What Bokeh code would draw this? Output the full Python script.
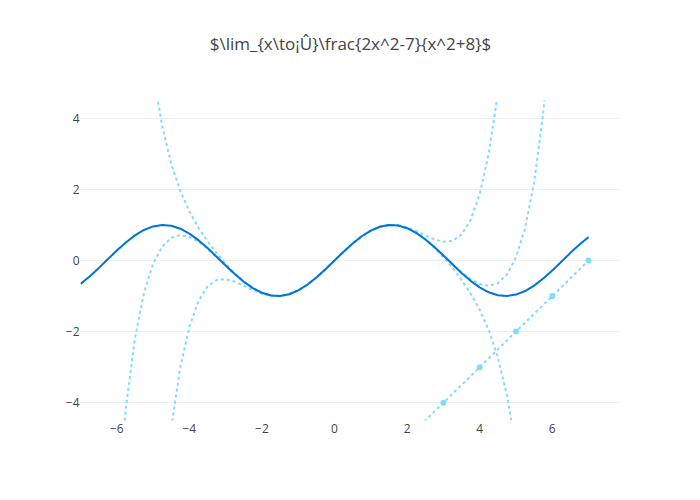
from bokeh.plotting import figure
from bokeh.models import Range1d, FixedTicker, Title
from bokeh.embed import file_html
from bokeh.resources import INLINE

TITLE = "$\\lim_{x\\to¡Û}\\frac{2x^2-7}{x^2+8}$"

# solid curve
sine_x = [-7, -6.75, -6.5, -6.25, -6, -5.75, -5.5, -5.25, -5, -4.75, -4.5, -4.25, -4, -3.75,
          -3.5, -3.25, -3, -2.75, -2.5, -2.25, -2, -1.75, -1.5, -1.25, -1, -0.75, -0.5, -0.25,
          0, 0.25, 0.5, 0.75, 1, 1.25, 1.5, 1.75, 2, 2.25, 2.5, 2.75, 3, 3.25, 3.5, 3.75,
          4, 4.25, 4.5, 4.75, 5, 5.25, 5.5, 5.75, 6, 6.25, 6.5, 6.75, 7]
sine_y = [-0.657, -0.451, -0.215, 0.033, 0.279, 0.508, 0.706, 0.859, 0.959, 0.999, 0.978, 0.895,
          0.757, 0.572, 0.351, 0.108, -0.141, -0.382, -0.598, -0.778, -0.909, -0.984, -0.997,
          -0.949, -0.841, -0.682, -0.479, -0.247,
          0,
          0.247, 0.479, 0.682, 0.841, 0.949, 0.997, 0.984, 0.909, 0.778, 0.598, 0.382, 0.141,
          -0.108, -0.351, -0.572, -0.757, -0.895, -0.978, -0.999, -0.959, -0.859, -0.706,
          -0.508, -0.279, -0.033, 0.215, 0.451, 0.657]

# dotted curve A
a_x = [-4.75, -4.5, -4.25, -4, -3.75, -3.5, -3.25, -3, -2.75, -2.5, -2.25, -2, -1.75, -1.5,
       -1.25, -1, -0.75, -0.5, -0.25, 0, 0.25, 0.5, 0.75, 1, 1.25, 1.5, 1.75, 2, 2.25, 2.5,
       2.75, 3, 3.25, 3.5, 3.75, 4, 4.25, 4.5, 4.75]
a_y = [-7.039, -4.690, -3.010, -1.867, -1.141, -0.731, -0.550, -0.525, -0.595, -0.710, -0.832,
       -0.933, -0.994, -1.001, -0.950, -0.842, -0.682, -0.479, -0.247,
       0,
       0.247, 0.479, 0.682, 0.842, 0.950, 1.001, 0.994, 0.933, 0.832, 0.710, 0.595, 0.525,
       0.550, 0.731, 1.141, 1.867, 3.010, 4.690, 7.039]

# dotted curve B
b_x = [-5, -4.75, -4.5, -4.25, -4, -3.75, -3.5, -3.25, -3, -2.75, -2.5, -2.25, -2, -1.75, -1.5,
       -1.25, -1, -0.75, -0.5, -0.25, 0, 0.25, 0.5, 0.75, 1, 1.25, 1.5, 1.75, 2, 2.25, 2.5,
       2.75, 3, 3.25, 3.5, 3.75, 4, 4.25, 4.5, 4.75, 5]
b_y = [5.293, 3.786, 2.724, 1.959, 1.384, 0.928, 0.546, 0.210, -0.091, -0.359, -0.589, -0.774,
       -0.908, -0.984, -0.997, -0.949, -0.841, -0.682, -0.479, -0.247,
       0,
       0.247, 0.479, 0.682, 0.841, 0.949, 0.997, 0.984, 0.908, 0.774, 0.589, 0.359, 0.091,
       -0.210, -0.546, -0.928, -1.384, -1.959, -2.724, -3.786, -5.293]

# dotted curve C
c_x = [-6, -5.75, -5.5, -5.25, -5, -4.75, -4.5, -4.25, -4, -3.75, -3.5, -3.25, -3, -2.75, -2.5,
       -2.25, -2, -1.75, -1.5, -1.25, -1, -0.75, -0.5, -0.25, 0, 0.25, 0.5, 0.75, 1, 1.25, 1.5,
       1.75, 2, 2.25, 2.5, 2.75, 3, 3.25, 3.5, 3.75, 4, 4.25, 4.5, 4.75, 5, 5.25, 5.5, 5.75, 6]
c_y = [-7.028, -4.145, -2.195, -0.908, -0.089, 0.394, 0.639, 0.712, 0.662, 0.524, 0.328, 0.098,
       -0.145, -0.383, -0.599, -0.778, -0.909, -0.984, -0.997, -0.949, -0.841, -0.682, -0.479,
       -0.247,
       0,
       0.247, 0.479, 0.682, 0.841, 0.949, 0.997, 0.984, 0.909, 0.778, 0.599, 0.383, 0.145,
       -0.098, -0.328, -0.524, -0.662, -0.712, -0.639, -0.394, 0.089, 0.908, 2.195, 4.145, 7.028]

# dotted line with markers
d_x = [2, 3, 4, 5, 6, 7]
d_y = [-5, -4, -3, -2, -1, 0]

x_ticks = [-6, -4, -2, 0, 2, 4, 6]
x_tick_labels = ["\u22126", "\u22124", "\u22122", "0", "2", "4", "6"]
y_ticks = [-4, -2, 0, 2, 4]
y_tick_labels = ["\u22124", "\u22122", "0", "2", "4"]

DARK = "#0074D9"
LIGHT = "#7FDBFF"
FONT = "Open Sans"

p = figure(frame_width=540, frame_height=320, output_backend="svg", toolbar_location=None,
           x_range=Range1d(-7.0, 7.88), y_range=Range1d(-4.5, 4.5),
           min_border_left=80, min_border_right=64, min_border_top=100, min_border_bottom=64,
           background_fill_color="white", border_fill_color="white")
p.outline_line_color = None

# spacer between the frame and the title
p.add_layout(Title(text=" ", text_font_size="1px", standoff=43), "above")

p.title.text = TITLE
p.title.align = "center"
p.title.text_font = FONT
p.title.text_font_size = "17px"
p.title.text_font_style = "normal"
p.title.text_color = "#444444"
p.title.standoff = 0

p.xaxis.ticker = FixedTicker(ticks=x_ticks)
p.yaxis.ticker = FixedTicker(ticks=y_ticks)
p.xaxis.major_label_overrides = {t: l for t, l in zip(x_ticks, x_tick_labels)}
p.yaxis.major_label_overrides = {t: l for t, l in zip(y_ticks, y_tick_labels)}
for ax in (p.xaxis[0], p.yaxis[0]):
    ax.axis_line_color = None
    ax.major_tick_line_color = None
    ax.minor_tick_line_color = None
    ax.major_label_text_font = FONT
    ax.major_label_text_font_size = "12px"
    ax.major_label_text_color = "#444444"
p.xaxis.major_label_standoff = -3
p.yaxis.major_label_standoff = -5

p.xgrid.grid_line_color = None
p.ygrid.grid_line_color = "#eeeeee"
p.ygrid.grid_line_width = 1

for xs, ys in ((a_x, a_y), (b_x, b_y), (c_x, c_y), (d_x, d_y)):
    p.line(xs, ys, line_color=LIGHT, line_width=2, line_dash="3 3")
p.scatter(d_x, d_y, size=6, fill_color=LIGHT, line_color=None)
p.line(sine_x, sine_y, line_color=DARK, line_width=2, line_join="round")

open("out.html", "w").write(file_html(p, INLINE))
